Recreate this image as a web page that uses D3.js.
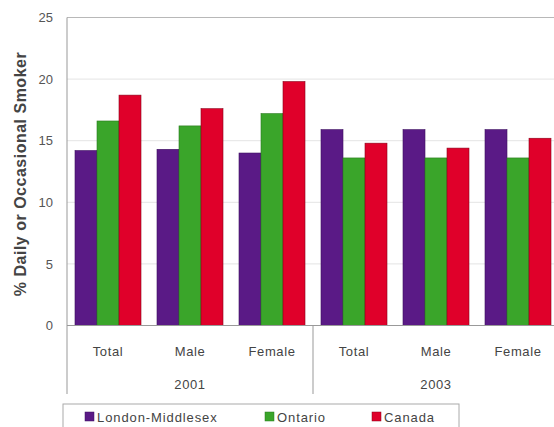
<!DOCTYPE html>
<html><head><meta charset="utf-8">
<script src="https://cdn.jsdelivr.net/npm/d3@7/dist/d3.min.js"></script>
<style>body{margin:0;background:#fff;}svg{display:block;font-family:Arial,"Liberation Sans",sans-serif;}</style>
</head><body>
<svg id="c" width="554" height="427"></svg>
<script>
const categories = ["Total","Male","Female","Total","Male","Female"];
const years = ["2001","2003"];
const seriesNames = ["London-Middlesex","Ontario","Canada"];
const londonMiddlesex = [14.2,14.3,14.0,15.9,15.9,15.9];
const ontario = [16.6,16.2,17.2,13.6,13.6,13.6];
const canada = [18.7,17.6,19.8,14.8,14.4,15.2];
const yTicks = [0,5,10,15,20,25];
const colors = ["#5a1a86","#3aa52a","#e0002a"];
const strokes = ["#3d1060","#2a7a1e","#8a0018"];

const series = [londonMiddlesex, ontario, canada];
const svg = d3.select("#c");
const L = 67, R = 559, T = 17.5, B = 325.5;

const x0 = d3.scaleBand().domain(d3.range(categories.length)).range([L,R]).paddingInner(16/82).paddingOuter(8/82);
const x1 = d3.scaleBand().domain(d3.range(seriesNames.length)).range([0,x0.bandwidth()]);
const y = d3.scaleLinear().domain([0,25]).range([B,T]);

// gridlines
svg.append("g").selectAll("line").data(yTicks.filter(d=>d>0&&d<25)).join("line")
  .attr("x1",L).attr("x2",R).attr("y1",d=>y(d)).attr("y2",d=>y(d))
  .attr("stroke","#e4e4e4").attr("stroke-width",1);
svg.append("line").attr("x1",L).attr("x2",R).attr("y1",y(25)).attr("y2",y(25)).attr("stroke","#b8b8b8").attr("stroke-width",1.2);

// y axis
const yAxis = d3.axisLeft(y).tickValues(yTicks).tickSize(0).tickPadding(14);
const ga = svg.append("g").attr("transform",`translate(${L},0)`).call(yAxis);
ga.select(".domain").remove();
ga.selectAll("text").attr("font-size",13).attr("fill","#555");

// bars
const gg = svg.append("g").selectAll("g").data(categories).join("g")
  .attr("transform",(d,i)=>`translate(${x0(i)},0)`);
gg.selectAll("rect").data((d,i)=>series.map((s,j)=>({j,v:s[i]}))).join("rect")
  .attr("x",d=>x1(d.j)).attr("width",x1.bandwidth())
  .attr("y",d=>y(d.v)).attr("height",d=>B-y(d.v))
  .attr("fill",d=>colors[d.j]).attr("stroke",d=>strokes[d.j]).attr("stroke-width",0.6);

// axes lines
svg.append("line").attr("x1",L).attr("x2",R).attr("y1",B).attr("y2",B).attr("stroke","#999");
svg.append("line").attr("x1",L).attr("x2",L).attr("y1",T).attr("y2",394).attr("stroke","#999");
const divX = x0(3) - x0.step()*x0.paddingInner()/2;
svg.append("line").attr("x1",divX).attr("x2",divX).attr("y1",B).attr("y2",394).attr("stroke","#999");

// category labels
svg.append("g").selectAll("text").data(categories).join("text")
  .attr("x",(d,i)=>x0(i)+x0.bandwidth()/2).attr("y",356)
  .attr("text-anchor","middle").attr("font-size",13).attr("letter-spacing",0.6).attr("fill","#444").text(d=>d);
svg.append("g").selectAll("text").data(years).join("text")
  .attr("x",(d,i)=>x0(i*3+1)+x0.bandwidth()/2).attr("y",389)
  .attr("text-anchor","middle").attr("font-size",13).attr("letter-spacing",0.6).attr("fill","#444").text(d=>d);

// y title
svg.append("text").attr("transform","translate(26,174) rotate(-90)")
  .attr("text-anchor","middle").attr("font-size",16).attr("letter-spacing",0.5).attr("font-weight","bold").attr("fill","#444")
  .text("% Daily or Occasional Smoker");

// legend
svg.append("rect").attr("x",63).attr("y",404).attr("width",396).attr("height",30)
  .attr("fill","#fff").attr("stroke","#aaa");
const lx = [85,265,372];
const lg = svg.append("g").selectAll("g").data(seriesNames).join("g")
  .attr("transform",(d,i)=>`translate(${lx[i]},412)`);
lg.append("rect").attr("width",9).attr("height",9).attr("fill",(d,i)=>colors[i]).attr("stroke",(d,i)=>strokes[i]).attr("stroke-width",0.5);
lg.append("text").attr("x",12).attr("y",10).attr("font-size",13).attr("letter-spacing",0.9).attr("fill","#444").text(d=>d);
</script>
</body></html>
